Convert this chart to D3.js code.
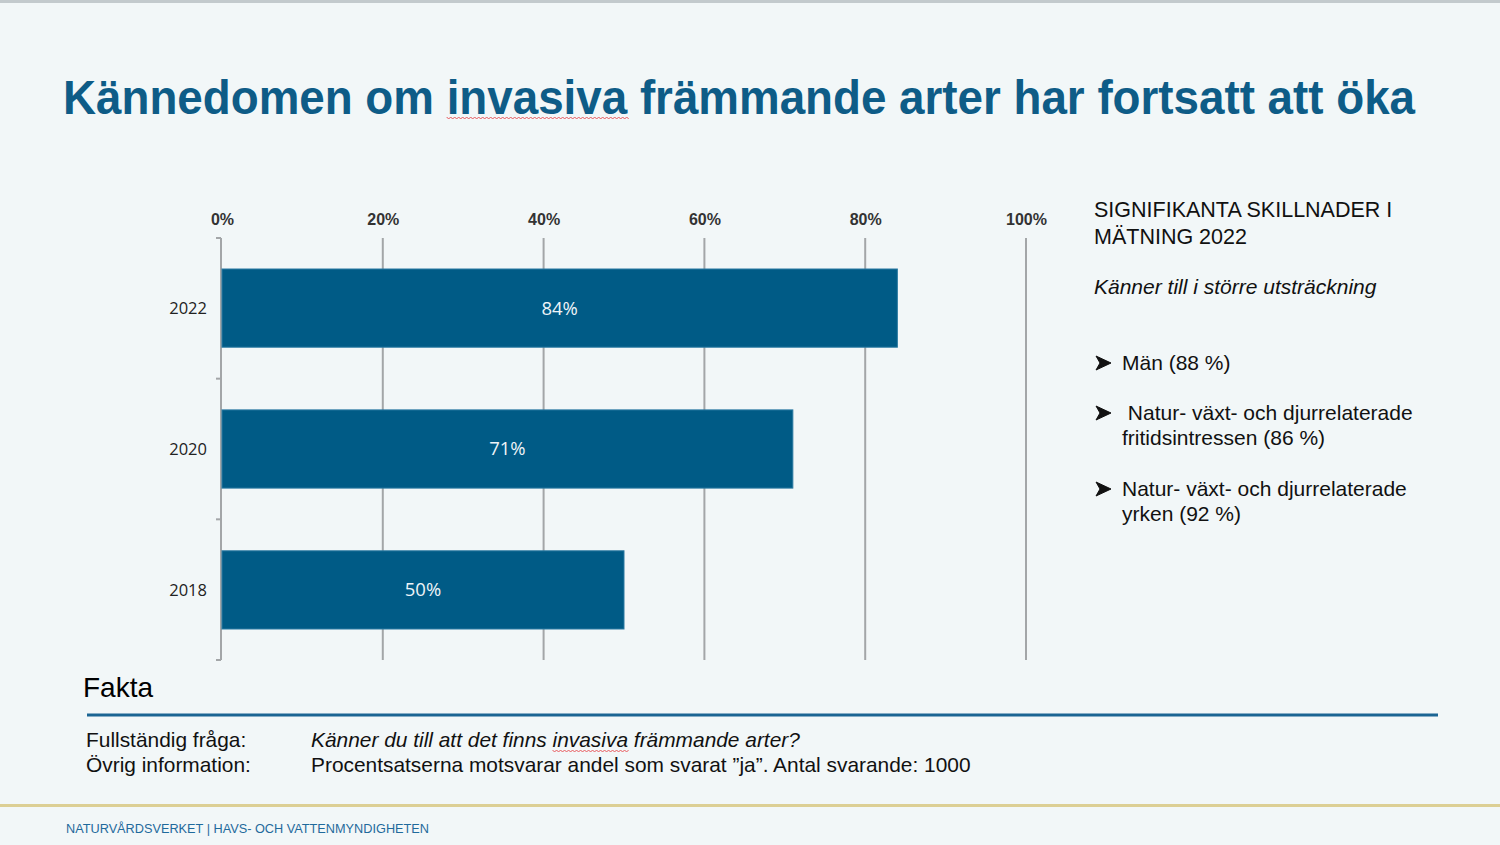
<!DOCTYPE html>
<html>
<head>
<meta charset="utf-8">
<script src="https://cdn.jsdelivr.net/npm/d3@7"></script>
<style>
  html, body { margin: 0; padding: 0; background: #f2f7f8; }
  svg { display: block; }
</style>
</head>
<body>
<div id="slide"></div>
<script>
// chart data
var years = ["2022", "2020", "2018"];
var shares = [84, 71, 50];
var ticks = [0, 20, 40, 60, 80, 100];

var title = "Kännedomen om invasiva främmande arter har fortsatt att öka";
var sideHeading = ["SIGNIFIKANTA SKILLNADER I", "MÄTNING 2022"];
var sideSub = "Känner till i större utsträckning";
var bullets = [
    ["Män (88 %)"],
    [" Natur- växt- och djurrelaterade", "fritidsintressen (86 %)"],
    ["Natur- växt- och djurrelaterade", "yrken (92 %)"]
];
var factLabels = ["Fullständig fråga:", "Övrig information:"];
var factTexts = ["Känner du till att det finns invasiva främmande arter?",
                 "Procentsatserna motsvarar andel som svarat ”ja”. Antal svarande: 1000"];
var footer = "NATURVÅRDSVERKET | HAVS- OCH VATTENMYNDIGHETEN";

var W = 1500, H = 845;
var blue = "#005b86";
var gridColor = "#a3a6a8";

var svg = d3.select("#slide").append("svg")
    .attr("width", W)
    .attr("height", H);

svg.append("rect").attr("width", W).attr("height", H).attr("fill", "#f2f7f8");
svg.append("rect").attr("width", W).attr("height", 3).attr("fill", "#c3cacd");

// title
var titleText = svg.append("text")
    .attr("x", 63)
    .attr("y", 114)
    .attr("font-family", "Liberation Sans, Arial, sans-serif")
    .attr("font-weight", "bold")
    .attr("font-size", 48)
    .attr("fill", "#0e5c87")
    .attr("textLength", 1352)
    .attr("lengthAdjust", "spacingAndGlyphs")
    .text(title);

// spell-check squiggle under a word
function squiggle(textNode, word, y) {
    var idx = textNode.textContent.indexOf(word);
    if (idx < 0) return null;
    var x0 = textNode.getStartPositionOfChar(idx).x;
    var x1 = textNode.getEndPositionOfChar(idx + word.length - 1).x;
    var d = "M" + x0 + "," + y;
    for (var x = x0, k = 0; x < x1; x += 2, k++) {
        d += " L" + (x + 2) + "," + (y + (k % 2 ? 0 : 2));
    }
    return d;
}

var sq = squiggle(titleText.node(), "invasiva", 117);
if (sq) {
    svg.append("path").attr("d", sq).attr("fill", "none")
        .attr("stroke", "#e8585c").attr("stroke-width", 1);
}

// chart
var x = d3.scaleLinear().domain([0, 100]).range([222, 1026]);
var y = d3.scaleBand().domain(years).range([238, 660]).paddingInner(0.445).paddingOuter(0.22);
var yEdges = d3.scaleLinear().domain([0, years.length]).range([238, 660]);

var chart = svg.append("g").attr("font-family", "Open Sans, sans-serif");

chart.selectAll(".grid")
    .data(ticks.slice(1))
    .enter()
    .append("line")
    .attr("class", "grid")
    .attr("x1", function (d) { return x(d); })
    .attr("x2", function (d) { return x(d); })
    .attr("y1", 238)
    .attr("y2", 660)
    .attr("stroke", gridColor)
    .attr("stroke-width", 2);

var xAxis = d3.axisTop(x)
    .tickValues(ticks)
    .tickSize(0)
    .tickFormat(function (d) { return d + "%"; });

var gx = chart.append("g")
    .attr("transform", "translate(0,225)")
    .call(xAxis);
gx.select(".domain").remove();
gx.selectAll("text")
    .attr("dy", 0)
    .attr("y", 0)
    .attr("font-size", 16)
    .attr("font-weight", 600)
    .attr("fill", "#333");

// category axis
chart.append("line")
    .attr("x1", 221).attr("x2", 221)
    .attr("y1", 238).attr("y2", 660)
    .attr("stroke", gridColor)
    .attr("stroke-width", 2);

chart.selectAll(".ytick")
    .data(d3.range(years.length + 1))
    .enter()
    .append("line")
    .attr("class", "ytick")
    .attr("x1", 216).attr("x2", 221)
    .attr("y1", function (d) { return yEdges(d); })
    .attr("y2", function (d) { return yEdges(d); })
    .attr("stroke", gridColor)
    .attr("stroke-width", 2);

chart.selectAll(".ylabel")
    .data(years)
    .enter()
    .append("text")
    .attr("class", "ylabel")
    .attr("x", 207)
    .attr("y", function (d) { return y(d) + y.bandwidth() / 2; })
    .attr("dy", "0.35em")
    .attr("text-anchor", "end")
    .attr("font-size", 16.5)
    .attr("fill", "#222")
    .text(function (d) { return d; });

var bars = chart.selectAll(".bar")
    .data(years)
    .enter()
    .append("g")
    .attr("class", "bar");

bars.append("rect")
    .attr("x", x(0))
    .attr("y", function (d) { return y(d); })
    .attr("width", function (d, i) { return x(shares[i]) - x(0); })
    .attr("height", y.bandwidth())
    .attr("fill", blue)
    .attr("stroke", "#2a7aa2")
    .attr("stroke-width", 1);

bars.append("text")
    .attr("x", function (d, i) { return (x(0) + x(shares[i])) / 2; })
    .attr("y", function (d) { return y(d) + y.bandwidth() / 2; })
    .attr("dy", "0.35em")
    .attr("text-anchor", "middle")
    .attr("font-size", 18.5)
    .attr("fill", "#eef4f8")
    .text(function (d, i) { return shares[i] + "%"; });

// side panel
var side = svg.append("g")
    .attr("font-family", "Liberation Sans, Arial, sans-serif")
    .attr("fill", "#111");

side.selectAll(".head")
    .data(sideHeading)
    .enter()
    .append("text")
    .attr("x", 1094)
    .attr("y", function (d, i) { return 217 + i * 27; })
    .attr("font-size", 21.5)
    .text(function (d) { return d; });

side.append("text")
    .attr("x", 1094)
    .attr("y", 294)
    .attr("font-size", 21)
    .attr("font-style", "italic")
    .text(sideSub);

var bulletTop = [370, 420, 496];
bullets.forEach(function (lines, i) {
    // arrowhead bullet
    side.append("path")
        .attr("transform", "translate(1096," + (bulletTop[i] - 14) + ")")
        .attr("d", "M0,0 L15,7 L0,14 L4,7 Z M1.5,1.6 L12,7")
        .attr("fill", "#111")
        .attr("stroke", "#111")
        .attr("stroke-width", 1)
        .attr("stroke-linejoin", "round");
    lines.forEach(function (line, j) {
        side.append("text")
            .attr("x", 1122)
            .attr("y", bulletTop[i] + j * 25)
            .attr("font-size", 21)
            .style("white-space", "pre")
            .text(line);
    });
});

// facts box
svg.append("text")
    .attr("x", 83)
    .attr("y", 697)
    .attr("font-family", "Liberation Sans, Arial, sans-serif")
    .attr("font-size", 28)
    .attr("fill", "#000")
    .text("Fakta");

svg.append("line")
    .attr("x1", 87).attr("x2", 1438)
    .attr("y1", 715).attr("y2", 715)
    .attr("stroke", "#1b6593")
    .attr("stroke-width", 3);

var facts = svg.append("g")
    .attr("font-family", "Liberation Sans, Arial, sans-serif")
    .attr("font-size", 20.9)
    .attr("fill", "#111");

factLabels.forEach(function (lab, i) {
    facts.append("text")
        .attr("x", 86)
        .attr("y", 747 + i * 25)
        .text(lab);
    var t = facts.append("text")
        .attr("x", 311)
        .attr("y", 747 + i * 25)
        .attr("font-style", i === 0 ? "italic" : "normal")
        .text(factTexts[i]);
    if (i === 0) {
        var s = squiggle(t.node(), "invasiva", 750);
        if (s) {
            facts.append("path").attr("d", s).attr("fill", "none")
                .attr("stroke", "#e8585c").attr("stroke-width", 1);
        }
    }
});

// footer
svg.append("rect")
    .attr("x", 0).attr("y", 804)
    .attr("width", W).attr("height", 3)
    .attr("fill", "#dccf94");

svg.append("text")
    .attr("x", 66)
    .attr("y", 833)
    .attr("font-family", "Liberation Sans Narrow, Liberation Sans, Arial, sans-serif")
    .attr("font-size", 12)
    .attr("fill", "#1f6a9c")
    .attr("textLength", 363)
    .attr("lengthAdjust", "spacingAndGlyphs")
    .text(footer);
</script>
</body>
</html>
